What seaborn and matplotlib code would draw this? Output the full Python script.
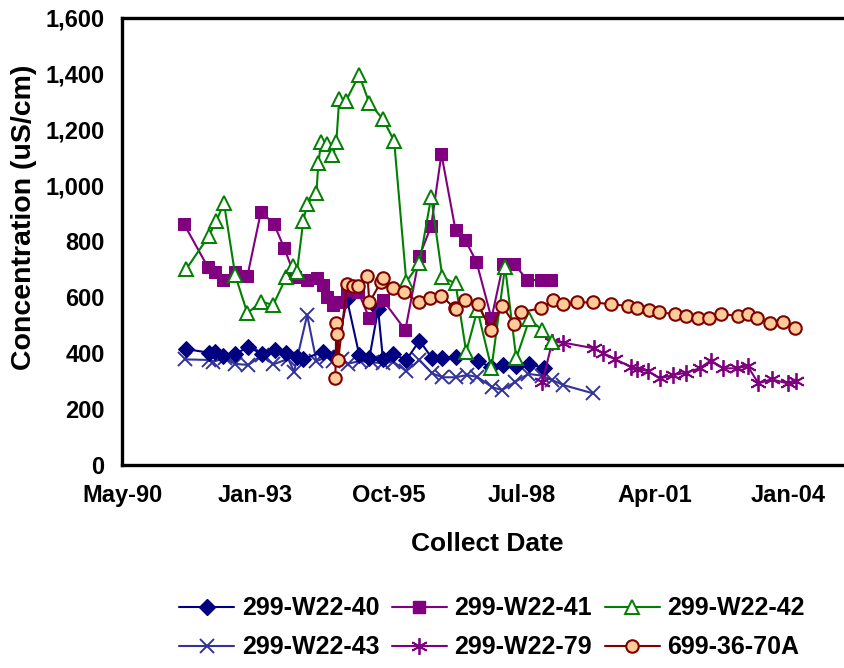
import matplotlib
matplotlib.use("Agg")
import matplotlib.pyplot as plt
import matplotlib.dates as mdates
from matplotlib.lines import Line2D
import seaborn as sns
import pandas as pd

# ---- data (x = decimal year of collection, y = uS/cm) ----
w40_t = [1991.66, 1992.13, 1992.26, 1992.42, 1992.67, 1992.94, 1993.22, 1993.49, 1993.72, 1993.94,
         1994.07, 1994.48, 1994.73, 1994.97, 1995.22, 1995.43, 1995.61, 1995.71, 1995.92, 1996.19,
         1996.46, 1996.72, 1996.93, 1997.20, 1997.67, 1997.92, 1998.18, 1998.45, 1998.72, 1999.03]
w40_v = [415, 402, 405, 390, 397, 423, 397, 412, 400, 388,
         379, 406, 385, 593, 395, 383, 557, 378, 397, 376,
         445, 382, 382, 388, 373, 350, 358, 354, 360, 348]

w41_t = [1991.62, 1992.11, 1992.26, 1992.42, 1992.67, 1992.92, 1993.20, 1993.47, 1993.68, 1993.90,
         1994.15, 1994.36, 1994.48, 1994.56, 1994.69, 1994.83, 1994.97, 1995.20, 1995.43, 1995.71,
         1996.17, 1996.46, 1996.70, 1996.91, 1997.20, 1997.40, 1997.63, 1997.94, 1998.18, 1998.41,
         1998.68, 1998.95, 1999.17]
w41_v = [862, 708, 692, 662, 692, 676, 907, 862, 776, 674,
         662, 670, 644, 602, 573, 585, 626, 620, 525, 590,
         483, 748, 855, 1113, 841, 805, 728, 525, 718, 718,
         662, 662, 662]

w42_t = [1991.66, 1992.13, 1992.28, 1992.44, 1992.67, 1992.92, 1993.20, 1993.45, 1993.72, 1993.86,
         1993.94, 1994.07, 1994.15, 1994.34, 1994.38, 1994.44, 1994.56, 1994.67, 1994.75, 1994.81,
         1994.95, 1995.22, 1995.43, 1995.71, 1995.94, 1996.19, 1996.46, 1996.70, 1996.93, 1997.20,
         1997.42, 1997.65, 1997.94, 1998.22, 1998.45, 1998.72, 1998.99, 1999.19]
w42_v = [700, 820, 873, 937, 680, 543, 585, 573, 672, 713,
         692, 873, 934, 972, 1080, 1157, 1149, 1110, 1157, 1310,
         1304, 1396, 1295, 1238, 1160, 656, 722, 960, 672, 650,
         405, 555, 346, 710, 382, 521, 483, 441]

w43_t = [1991.64, 1992.13, 1992.22, 1992.46, 1992.67, 1992.94, 1993.22, 1993.45, 1993.76, 1993.88,
         1994.15, 1994.34, 1994.56, 1994.69, 1994.87, 1994.99, 1995.24, 1995.49, 1995.71, 1995.92,
         1996.19, 1996.46, 1996.72, 1996.93, 1997.20, 1997.44, 1997.65, 1997.96, 1998.16, 1998.43,
         1998.70, 1998.97, 1999.19, 1999.42, 2000.02]
w43_v = [378, 376, 370, 382, 362, 358, 393, 360, 380, 334,
         537, 372, 386, 372, 378, 363, 372, 367, 365, 370,
         336, 376, 328, 314, 314, 322, 315, 278, 268, 298,
         326, 320, 304, 286, 257]

w79_t = [1998.99, 1999.19, 1999.42, 2000.04, 2000.24, 2000.49, 2000.80, 2000.94, 2001.15, 2001.40,
         2001.68, 2001.93, 2002.22, 2002.45, 2002.71, 2002.98, 2003.21, 2003.43, 2003.70, 2004.03,
         2004.20]
w79_v = [298, 441, 438, 418, 400, 378, 352, 342, 337, 310,
         322, 330, 346, 374, 346, 346, 354, 292, 307, 292,
         302]

a70_t = [1994.73, 1994.75, 1994.77, 1994.79, 1994.97, 1995.10, 1995.20, 1995.39, 1995.43, 1995.67,
         1995.71, 1995.92, 1996.15, 1996.44, 1996.68, 1996.91, 1997.18, 1997.20, 1997.40, 1997.67,
         1997.92, 1998.16, 1998.41, 1998.55, 1998.95, 1999.21, 1999.42, 1999.69, 2000.02, 2000.39,
         2000.74, 2000.94, 2001.17, 2001.38, 2001.72, 2001.93, 2002.18, 2002.41, 2002.67, 2003.00,
         2003.21, 2003.41, 2003.66, 2003.93, 2004.18]
a70_v = [310, 507, 469, 376, 647, 640, 640, 678, 582, 656,
         670, 634, 618, 582, 599, 606, 561, 557, 590, 576,
         483, 570, 505, 547, 561, 590, 576, 582, 582, 576,
         569, 561, 555, 547, 540, 533, 527, 527, 540, 534,
         540, 525, 507, 513, 489]

labels = ["299-W22-40", "299-W22-41", "299-W22-42", "299-W22-43", "299-W22-79", "699-36-70A"]
x_ticks = ["1990-05-06", "1993-01-30", "1995-10-27", "1998-07-23", "2001-04-18", "2004-01-13"]
y_ticks = [0, 200, 400, 600, 800, 1000, 1200, 1400, 1600]


def to_dt(years):
    out = []
    for y in years:
        yr = int(y)
        a = pd.Timestamp(yr, 1, 1)
        b = pd.Timestamp(yr + 1, 1, 1)
        out.append(a + (b - a) * (y - yr))
    return out


sns.set_style("white")
plt.rcParams["font.family"] = ["Liberation Sans", "DejaVu Sans"]
plt.rcParams["font.weight"] = "bold"
plt.rcParams["text.color"] = "black"
plt.rcParams["axes.labelcolor"] = "black"
plt.rcParams["xtick.color"] = "black"
plt.rcParams["ytick.color"] = "black"

fig = plt.figure(figsize=(8.44, 6.68), dpi=100)
ax = fig.add_axes([122 / 844, (668 - 465) / 668, (852 - 122) / 844, 447 / 668])

styles = [
    dict(color="#000080", marker="D", markersize=8, markerfacecolor="#000080", markeredgecolor="#000080"),
    dict(color="#800080", marker="s", markersize=8.5, markerfacecolor="#800080", markeredgecolor="#800080"),
    dict(color="#008000", marker="^", markersize=10.5, markerfacecolor="white", markeredgecolor="#008000",
         markeredgewidth=1.4),
    dict(color="#333399", marker="x", markersize=9.5, markerfacecolor="#333399", markeredgecolor="#333399",
         markeredgewidth=1.4),
    dict(color="#800080", marker=(6, 2, 0), markersize=12, markerfacecolor="#800080",
         markeredgecolor="#800080", markeredgewidth=1.3),
    dict(color="#800000", marker="o", markersize=9, markerfacecolor="#FFCC99", markeredgecolor="#800000",
         markeredgewidth=1.5),
]
series = [(w40_t, w40_v), (w41_t, w41_v), (w42_t, w42_v), (w43_t, w43_v), (w79_t, w79_v), (a70_t, a70_v)]
draw_order = [3, 0, 4, 1, 2, 5]
for i in draw_order:
    t, v = series[i]
    df = pd.DataFrame({"date": to_dt(t), "val": v})
    sns.lineplot(data=df, x="date", y="val", ax=ax, estimator=None, sort=False,
                 linewidth=1.5, legend=False, **styles[i])

ax.set_ylim(0, 1600)
ax.set_yticks(y_ticks)
ax.set_yticklabels([f"{v:,}" for v in y_ticks])
ax.set_xlim(pd.Timestamp("1990-05-06"), pd.Timestamp("2005-05-10"))
ax.set_xticks([pd.Timestamp(d) for d in x_ticks])
ax.xaxis.set_major_formatter(mdates.DateFormatter("%b-%y"))

for s in ax.spines.values():
    s.set_linewidth(2.4)
    s.set_color("black")
ax.tick_params(axis="both", direction="out", length=3.5, width=1, color="black", labelsize=17)
ax.tick_params(axis="x", pad=10)
ax.tick_params(axis="y", pad=9)
for lab in ax.get_xticklabels() + ax.get_yticklabels():
    lab.set_fontweight("bold")

ax.set_xlabel("Collect Date", fontsize=19, fontweight="bold", labelpad=18)
ax.set_ylabel("Concentration (uS/cm)", fontsize=20.5, fontweight="bold")
ax.yaxis.set_label_coords(-0.117, 0.555)

handles = [Line2D([], [], linewidth=1.5, **st) for st in styles]
order = [0, 3, 1, 4, 2, 5]
fig.legend([handles[i] for i in order], [labels[i] for i in order],
           loc="center", bbox_to_anchor=(0.583, 0.06), ncol=3, frameon=False,
           prop={"size": 18, "weight": "bold"}, handlelength=2.2, handletextpad=0.3,
           columnspacing=0.5, labelspacing=0.6)

fig.savefig("out.png", dpi=100)
